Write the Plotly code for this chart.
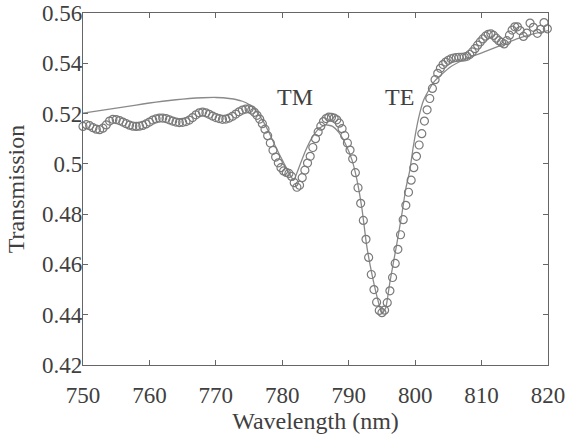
import plotly.graph_objects as go

# Measured data (circles)
wl_meas = [750.0, 750.5, 751.0, 751.5, 752.0, 752.5, 753.0, 753.5, 754.0, 754.5,
           755.0, 755.5, 756.0, 756.5, 757.0, 757.5, 758.0, 758.5, 759.0, 759.5,
           760.0, 760.5, 761.0, 761.5, 762.0, 762.5, 763.0, 763.5, 764.0, 764.5,
           765.0, 765.5, 766.0, 766.5, 767.0, 767.5, 768.0, 768.5, 769.0, 769.5,
           770.0, 770.5, 771.0, 771.5, 772.0, 772.5, 773.0, 773.5, 774.0, 774.5,
           775.0, 775.4, 775.8, 776.2, 776.6, 777.0, 777.4, 777.8, 778.2, 778.6,
           779.0, 779.4, 779.8, 780.2, 780.6, 781.0, 781.4, 781.8, 782.2, 782.6,
           783.0, 783.4, 783.8, 784.2, 784.6, 785.0, 785.4, 785.8, 786.2, 786.6,
           787.0, 787.4, 787.8, 788.2, 788.6, 789.0, 789.4, 789.8, 790.2, 790.6,
           791.0, 791.4, 791.8, 792.2, 792.6, 793.0, 793.4, 793.8, 794.2, 794.6,
           795.0, 795.4, 795.8, 796.2, 796.6, 797.0, 797.4, 797.8, 798.2, 798.6,
           799.0, 799.4, 799.8, 800.2, 800.6, 801.0, 801.4, 801.8, 802.2, 802.6,
           803.0, 803.4, 803.8, 804.2, 804.6, 805.0, 805.4, 805.8, 806.2, 806.6,
           807.0, 807.4, 807.8, 808.2, 808.6, 809.0, 809.4, 809.8, 810.2, 810.6,
           811.0, 811.4, 811.8, 812.2, 812.6, 813.0, 813.4, 813.8, 814.2, 814.6,
           815.0, 815.4, 815.8, 816.3, 816.8, 817.3, 817.8, 818.4, 818.9, 819.4,
           819.9]
t_meas = [0.5149, 0.5156, 0.5152, 0.5144, 0.5138, 0.5136, 0.5142, 0.5155, 0.5170, 0.5177,
          0.5176, 0.5172, 0.5166, 0.5160, 0.5154, 0.5150, 0.5149, 0.5150, 0.5153, 0.5159,
          0.5166, 0.5174, 0.5179, 0.5182, 0.5182, 0.5180, 0.5175, 0.5170, 0.5166, 0.5164,
          0.5165, 0.5168, 0.5174, 0.5184, 0.5195, 0.5203, 0.5206, 0.5203, 0.5197, 0.5190,
          0.5184, 0.5180, 0.5177, 0.5178, 0.5182, 0.5189, 0.5198, 0.5207, 0.5214, 0.5218,
          0.5219, 0.5214, 0.5205, 0.5193, 0.5178, 0.5160, 0.5138, 0.5112, 0.5083, 0.5054,
          0.5027, 0.5004, 0.4985, 0.4972, 0.4966, 0.4962, 0.4950, 0.4925, 0.4907, 0.4915,
          0.4945, 0.4975, 0.5003, 0.5030, 0.5065, 0.5100, 0.5127, 0.5150, 0.5168, 0.5180,
          0.5186, 0.5185, 0.5182, 0.5175, 0.5162, 0.5140, 0.5112, 0.5083, 0.5055, 0.5020,
          0.4965, 0.4905, 0.4843, 0.4775, 0.4700, 0.4628, 0.4560, 0.4500, 0.4450, 0.4417,
          0.4408, 0.4418, 0.4448, 0.4495, 0.4548, 0.4604, 0.4660, 0.4718, 0.4778, 0.4835,
          0.4887, 0.4935, 0.4985, 0.5030, 0.5075, 0.5120, 0.5170, 0.5215, 0.5260, 0.5300,
          0.5335, 0.5360, 0.5380, 0.5395, 0.5405, 0.5412, 0.5418, 0.5421, 0.5423, 0.5424,
          0.5424, 0.5425, 0.5428, 0.5435, 0.5445, 0.5458, 0.5472, 0.5485, 0.5497, 0.5508,
          0.5515, 0.5517, 0.5511, 0.5500, 0.5490, 0.5483, 0.5477, 0.5490, 0.5512, 0.5532,
          0.5545, 0.5545, 0.5530, 0.5507, 0.5520, 0.5560, 0.5543, 0.5519, 0.5535, 0.5562,
          0.5537]

# Fitted curve (line)
wl_fit = [750, 752, 754, 756, 758, 760, 762, 764, 766, 768, 770, 771, 772, 773, 774,
          775, 776, 777, 778, 779, 780, 781, 781.7, 782.5, 783.5, 784.5, 785.5, 786.5,
          787.5, 788.5, 789.5, 790.5, 791.2, 792.0, 792.7, 793.5, 794.2, 794.7, 795.1,
          795.6, 796.2, 797.2, 798.0, 798.6, 799.2, 799.7, 800.5, 801.3, 802.8, 805.3,
          807.8, 810.3, 812.8, 815.3, 817.8, 820]
t_fit = [0.5202, 0.5210, 0.5218, 0.5226, 0.5234, 0.5242, 0.5249, 0.5255, 0.5260, 0.5263,
         0.5264, 0.5263, 0.5260, 0.5256, 0.5249, 0.5236, 0.5212, 0.5175, 0.5125, 0.5068,
         0.5015, 0.4965, 0.4935, 0.4985, 0.5052, 0.5105, 0.5140, 0.5155, 0.5150, 0.5125,
         0.5080, 0.5015, 0.4941, 0.4820, 0.4676, 0.4560, 0.4478, 0.4430, 0.4406, 0.4430,
         0.4530, 0.4676, 0.4800, 0.4902, 0.4975, 0.5065, 0.5180, 0.5255, 0.5325, 0.5385,
         0.5420, 0.5444, 0.5470, 0.5497, 0.5517, 0.5530]

labels = ["TM", "TE"]
label_x = [781.9, 797.7]
label_y = [0.5265, 0.5265]

FONT = "Liberation Serif"
TXT = "#404040"
AX = "#666666"

fig = go.Figure()
fig.add_trace(go.Scatter(x=wl_fit, y=t_fit, mode="lines",
                         line=dict(color="#8a8a8a", width=1.3, shape="spline", smoothing=0.5),
                         showlegend=False))
fig.add_trace(go.Scatter(x=wl_meas, y=t_meas, mode="markers",
                         marker=dict(symbol="circle-open", size=8, color="#7a7a7a",
                                     line=dict(width=1.2, color="#7a7a7a")),
                         showlegend=False, cliponaxis=False))
for lab, lx, ly in zip(labels, label_x, label_y):
    fig.add_annotation(x=lx, y=ly, text=lab, showarrow=False,
                       font=dict(family=FONT, size=24, color=TXT))

fig.update_layout(
    width=571, height=434,
    margin=dict(l=83, r=23, t=13, b=69, autoexpand=False),
    plot_bgcolor="white", paper_bgcolor="white",
    font=dict(family=FONT, size=23, color=TXT),
)
fig.update_xaxes(range=[750, 820], tickvals=[750, 760, 770, 780, 790, 800, 810, 820],
                 showgrid=False, zeroline=False, showline=True, linecolor=AX, linewidth=1.2,
                 mirror="ticks", ticks="inside", ticklen=5, tickcolor=AX, automargin=False,
                 ticklabelstandoff=9, ticklabeloverflow="allow",
                 title=dict(text="Wavelength (nm)", font=dict(size=24), standoff=3),
                 tickfont=dict(size=23))
fig.update_yaxes(range=[0.42, 0.56], tickvals=[0.42, 0.44, 0.46, 0.48, 0.5, 0.52, 0.54, 0.56],
                 showgrid=False, zeroline=False, showline=True, linecolor=AX, linewidth=1.2,
                 mirror="ticks", ticks="inside", ticklen=5, tickcolor=AX, automargin=False,
                 ticklabelstandoff=-5, ticklabeloverflow="allow",
                 title=dict(text="Transmission", font=dict(size=24), standoff=10),
                 tickfont=dict(size=23))

# remove the default 8px page margin so the figure fills the window exactly
fig.write_html("out.html", config={"displayModeBar": False},
               post_script="document.body.style.margin='0';")
